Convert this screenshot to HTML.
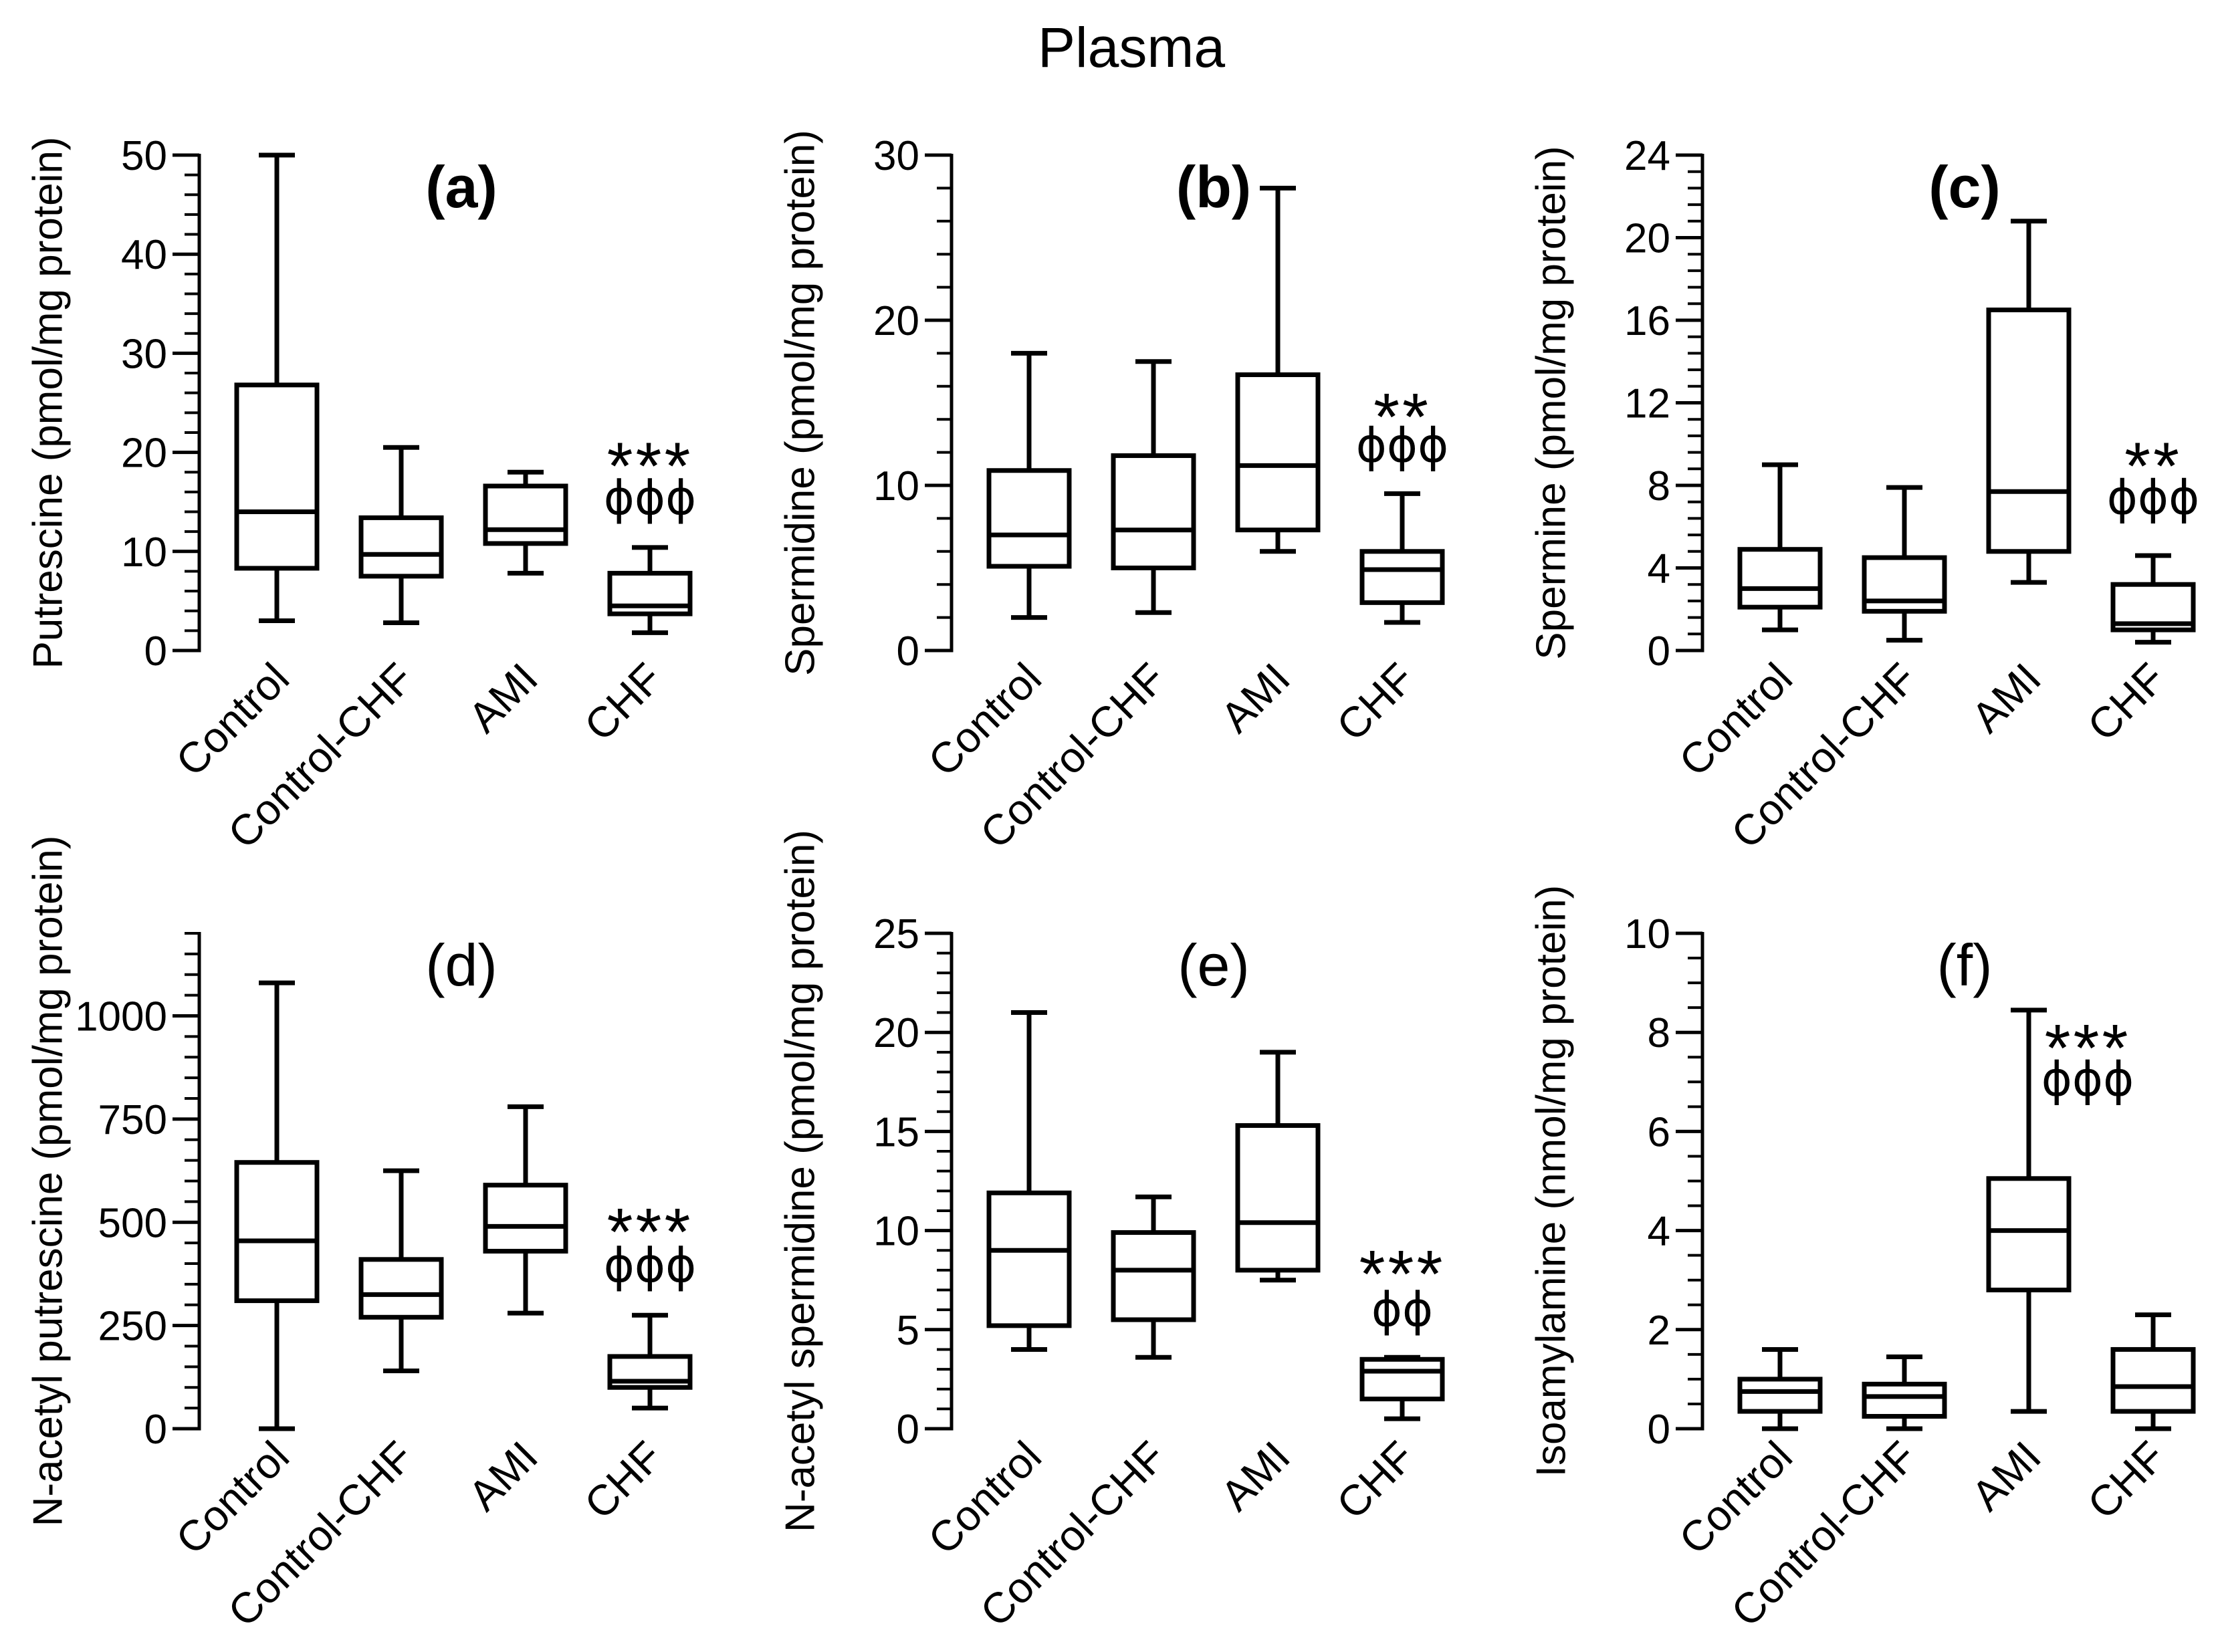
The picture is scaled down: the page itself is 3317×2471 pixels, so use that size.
<!DOCTYPE html>
<html><head><meta charset="utf-8"><style>
html,body{margin:0;padding:0;background:#fff;}
svg{display:block;font-family:"Liberation Sans",Arial,sans-serif;}
</style></head><body>
<svg id="fig" width="3317" height="2471" viewBox="0 0 3317 2471" xmlns="http://www.w3.org/2000/svg">
<rect x="0" y="0" width="3317" height="2471" fill="#fff"/>
<text x="1692" y="100" font-size="84" text-anchor="middle" fill="#000">Plasma</text>
</svg>
<script>
const categories = ["Control", "Control-CHF", "AMI", "CHF"];

const putrescineLow = [3, 2.8, 7.8, 1.8];
const putrescineQ1 = [8.3, 7.5, 10.8, 3.7];
const putrescineMedian = [14, 9.7, 12.2, 4.5];
const putrescineQ3 = [26.8, 13.4, 16.6, 7.8];
const putrescineHigh = [50, 20.5, 18, 10.4];

const spermidineLow = [2, 2.3, 6, 1.7];
const spermidineQ1 = [5.1, 5, 7.3, 2.9];
const spermidineMedian = [7, 7.3, 11.2, 4.9];
const spermidineQ3 = [10.9, 11.8, 16.7, 6];
const spermidineHigh = [18, 17.5, 28, 9.5];

const spermineLow = [1, 0.5, 3.3, 0.4];
const spermineQ1 = [2.1, 1.9, 4.8, 1];
const spermineMedian = [3, 2.4, 7.7, 1.3];
const spermineQ3 = [4.9, 4.5, 16.5, 3.2];
const spermineHigh = [9, 7.9, 20.8, 4.6];

const acPutLow = [0, 140, 280, 50];
const acPutQ1 = [310, 270, 430, 100];
const acPutMedian = [455, 325, 490, 115];
const acPutQ3 = [645, 410, 590, 175];
const acPutHigh = [1080, 625, 780, 275];

const acSpdLow = [4, 3.6, 7.5, 0.5];
const acSpdQ1 = [5.2, 5.5, 8, 1.5];
const acSpdMedian = [9, 8, 10.4, 2.9];
const acSpdQ3 = [11.9, 9.9, 15.3, 3.5];
const acSpdHigh = [21, 11.7, 19, 3.6];

const isoLow = [0, 0, 0.35, 0];
const isoQ1 = [0.35, 0.25, 2.8, 0.35];
const isoMedian = [0.75, 0.65, 4, 0.85];
const isoQ3 = [1, 0.9, 5.05, 1.6];
const isoHigh = [1.6, 1.45, 8.45, 2.3];

const yMaxes = [50, 30, 24, 1200, 25, 10];
const yMajorTicks = [[0,10,20,30,40,50],[0,10,20,30],[0,4,8,12,16,20,24],[0,250,500,750,1000],[0,5,10,15,20,25],[0,2,4,6,8,10]];
const yMinorSteps = [2, 2, 0.8, 50, 1, 0.5];
const yTitles = ["Putrescine (pmol/mg protein)","Spermidine (pmol/mg protein)","Spermine (pmol/mg protein)","N-acetyl putrescine (pmol/mg protein)","N-acetyl spermidine (pmol/mg protein)","Isoamylamine (nmol/mg protein)"];
const panelLetters = ["(a)","(b)","(c)","(d)","(e)","(f)"];
const sigStars = ["***","**","**","***","***","***"];
const sigPhis = ["ϕϕϕ","ϕϕϕ","ϕϕϕ","ϕϕϕ","ϕϕ","ϕϕϕ"];
const sigGroup = [3, 3, 3, 3, 3, 2];
const sigStarValue = [20.2, 15.1, 9.7, 515, 8.6, 8.0];
const sigPhiValue = [15.4, 12.4, 7.4, 395, 6.0, 7.05];

const panelStats = [
  [putrescineLow, putrescineQ1, putrescineMedian, putrescineQ3, putrescineHigh],
  [spermidineLow, spermidineQ1, spermidineMedian, spermidineQ3, spermidineHigh],
  [spermineLow, spermineQ1, spermineMedian, spermineQ3, spermineHigh],
  [acPutLow, acPutQ1, acPutMedian, acPutQ3, acPutHigh],
  [acSpdLow, acSpdQ1, acSpdMedian, acSpdQ3, acSpdHigh],
  [isoLow, isoQ1, isoMedian, isoQ3, isoHigh]
];

const NS = "http://www.w3.org/2000/svg";
const svg = document.getElementById("fig");
const axisXs = [298, 1423, 2546];
const rowTops = [232, 1396];
const plotH = 741;

function mk(tag, attrs, parent) {
  const e = document.createElementNS(NS, tag);
  for (const k in attrs) e.setAttribute(k, attrs[k]);
  parent.appendChild(e);
  return e;
}

for (let p = 0; p < 6; p++) {
  const ax = axisXs[p % 3];
  const top = rowTops[Math.floor(p / 3)];
  const bottom = top + plotH;
  const yMax = yMaxes[p];
  const yScale = v => bottom - (v / yMax) * plotH;
  const xScale = i => ax + 116 + 186 * i;

  const g = mk("g", {}, svg);
  
  

  const axis = mk("line", {x1: ax, y1: top - 2, x2: ax, y2: bottom + 2.5, stroke: "#000", "stroke-width": 5}, g);
  
  

  const nMinor = Math.round(yMax / yMinorSteps[p]);
  for (let k = 0; k <= nMinor; k++) {
    const v = k * yMinorSteps[p];
    const y = yScale(v);
    const t = mk("line", {x1: ax - 22, y1: y, x2: ax, y2: y, stroke: "#000", "stroke-width": 4}, g);
    
    
  }
  yMajorTicks[p].forEach(v => {
    const y = yScale(v);
    const t = mk("line", {x1: ax - 40, y1: y, x2: ax, y2: y, stroke: "#000", "stroke-width": 5}, g);
    
    
    const lb = mk("text", {x: ax - 48, y: y + 22, "font-size": 62, "text-anchor": "end", fill: "#000"}, g);
    lb.textContent = String(v);
    
    
  });

  const cy = (top + bottom) / 2;
  const tx = ax - 226;
  const yt = mk("text", {x: tx, y: cy, "font-size": 62, "text-anchor": "middle", fill: "#000",
    transform: "rotate(-90 " + tx + " " + cy + ")", "dominant-baseline": "central"}, g);
  yt.textContent = yTitles[p];
  
  

  const pl = mk("text", {x: ax + 392, y: top + 78, "font-size": 88, "text-anchor": "middle", fill: "#000",
    "font-weight": p < 3 ? "bold" : "normal"}, g);
  pl.textContent = panelLetters[p];
  
  

  const st = panelStats[p];
  for (let i = 0; i < categories.length; i++) {
    const cx = xScale(i);
    const bw = 120, cw = 50;
    const lo = yScale(st[0][i]), q1 = yScale(st[1][i]), md = yScale(st[2][i]), q3 = yScale(st[3][i]), hi = yScale(st[4][i]);
    const bg = mk("g", {stroke: "#000", "stroke-width": 7, fill: "none"}, g);
    
    
    mk("line", {x1: cx, y1: hi, x2: cx, y2: q3}, bg);
    mk("line", {x1: cx, y1: q1, x2: cx, y2: lo}, bg);
    mk("line", {x1: cx - cw / 2 - 2, y1: hi, x2: cx + cw / 2 + 2, y2: hi}, bg);
    mk("line", {x1: cx - cw / 2 - 2, y1: lo, x2: cx + cw / 2 + 2, y2: lo}, bg);
    mk("rect", {x: cx - bw / 2, y: q3, width: bw, height: Math.max(q1 - q3, 1)}, bg);
    mk("line", {x1: cx - bw / 2, y1: md, x2: cx + bw / 2, y2: md}, bg);

    const lx = cx + 22, ly = bottom + 46;
    const xl = mk("text", {x: lx, y: ly, "font-size": 64, "text-anchor": "end", fill: "#000",
      transform: "rotate(-45 " + lx + " " + ly + ")"}, g);
    xl.textContent = categories[i];
    
    
  }

  const gi = sigGroup[p];
  const sx = p === 5 ? xScale(gi) + 88 : xScale(gi);
  const s1 = mk("text", {x: sx, y: yScale(sigStarValue[p]) + 58, "font-size": 100, "text-anchor": "middle", fill: "#000", "letter-spacing": "4"}, g);
  s1.textContent = sigStars[p];
  
  
  const s2 = mk("text", {x: sx, y: yScale(sigPhiValue[p]) + 24, "font-size": 70, "text-anchor": "middle", fill: "#000", "font-family": "DejaVu Sans, sans-serif"}, g);
  s2.textContent = sigPhis[p];
  
  
}
</script>
</body></html>
